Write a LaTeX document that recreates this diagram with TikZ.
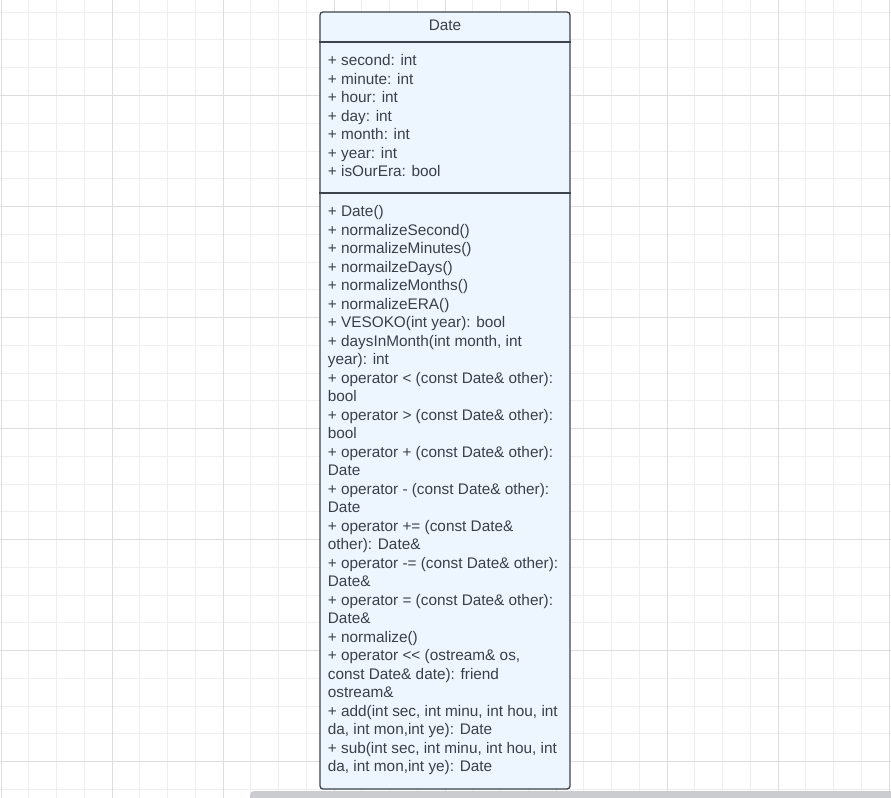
\documentclass[tikz,border=0pt]{standalone}
\usepackage{fontspec}
\setmainfont{Liberation Sans}
\usepackage{xcolor}
\definecolor{gridminor}{HTML}{EEEEEE}
\definecolor{gridmajor}{HTML}{DDDDDD}
\definecolor{umlline}{HTML}{3D434B}
\definecolor{umlfill}{HTML}{EDF5FF}
\definecolor{umltext}{HTML}{3A4049}
\definecolor{scrollgray}{HTML}{CBCCCF}

\begin{document}
\begin{tikzpicture}[x=1bp, y=-1bp,
    member/.style={anchor=base west, inner sep=0pt, text=umltext,
        font=\fontsize{15.4}{18.5}\selectfont},
    classbox/.style={draw=umlline, fill=umlfill, line width=1.3bp,
        rounded corners=3bp, minimum width=250bp, minimum height=777bp,
        inner sep=0pt},
    divider/.style={draw=umlline, line width=1.3bp}]
    \useasboundingbox (0,0) rectangle (891,798);
    \clip (0,0) rectangle (891,798);

    % Background grid
    \foreach \k in {0,...,32}
        \draw[gridminor, line width=1bp] ({1+27.75*\k},0) -- ({1+27.75*\k},798);
    \foreach \k in {0,...,28}
        \draw[gridminor, line width=1bp] (0,{12.25+27.75*\k}) -- (891,{12.25+27.75*\k});
    \foreach \k in {0,...,8}
        \draw[gridmajor, line width=1bp] ({1+111*\k},0) -- ({1+111*\k},798);
    \foreach \k in {0,...,6}
        \draw[gridmajor, line width=1bp] (0,{95.5+111*\k}) -- (891,{95.5+111*\k});

    % Scroll bar
    \fill[scrollgray, rounded corners=4bp] (250,791) rectangle (905,806);

    % Class box
    \node[classbox] (dateclass) at (445,400.5) {};
    \coordinate (div1) at (0,42);
    \coordinate (div2) at (0,193);
    \draw[divider] (dateclass.west |- div1) -- (dateclass.east |- div1);
    \draw[divider] (dateclass.west |- div2) -- (dateclass.east |- div2);

    % Class name
    \node[member, anchor=base] (title) at (445,30.8) {Date};

    % Attributes
    \foreach \attr [count=\i] in {
        {+ second: int}, {+ minute: int}, {+ hour: int}, {+ day: int},
        {+ month: int}, {+ year: int}, {+ isOurEra: bool}}
        \node[member] (attr\i) at (327.7,{65.7+18.5*(\i-1)}) {\attr};

    % Methods
    \foreach \meth [count=\i] in {
        {+ Date()}, {+ normalizeSecond()}, {+ normalizeMinutes()},
        {+ normailzeDays()}, {+ normalizeMonths()}, {+ normalizeERA()},
        {+ VESOKO(int year): bool},
        {+ daysInMonth(int month, int}, {year): int},
        {+ operator < (const Date\& other):}, {bool},
        {+ operator > (const Date\& other):}, {bool},
        {+ operator + (const Date\& other):}, {Date},
        {+ operator - (const Date\& other):}, {Date},
        {+ operator += (const Date\&}, {other): Date\&},
        {+ operator -= (const Date\& other):}, {Date\&},
        {+ operator = (const Date\& other):}, {Date\&},
        {+ normalize()},
        {+ operator <\kern0pt< (ostream\& os,}, {const Date\& date): friend}, {ostream\&},
        {+ add(int sec, int minu, int hou, int}, {da, int mon,int ye): Date},
        {+ sub(int sec, int minu, int hou, int}, {da, int mon,int ye): Date}}
        \node[member] (meth\i) at (327.7,{216.7+18.5*(\i-1)}) {\meth};
\end{tikzpicture}
\end{document}
